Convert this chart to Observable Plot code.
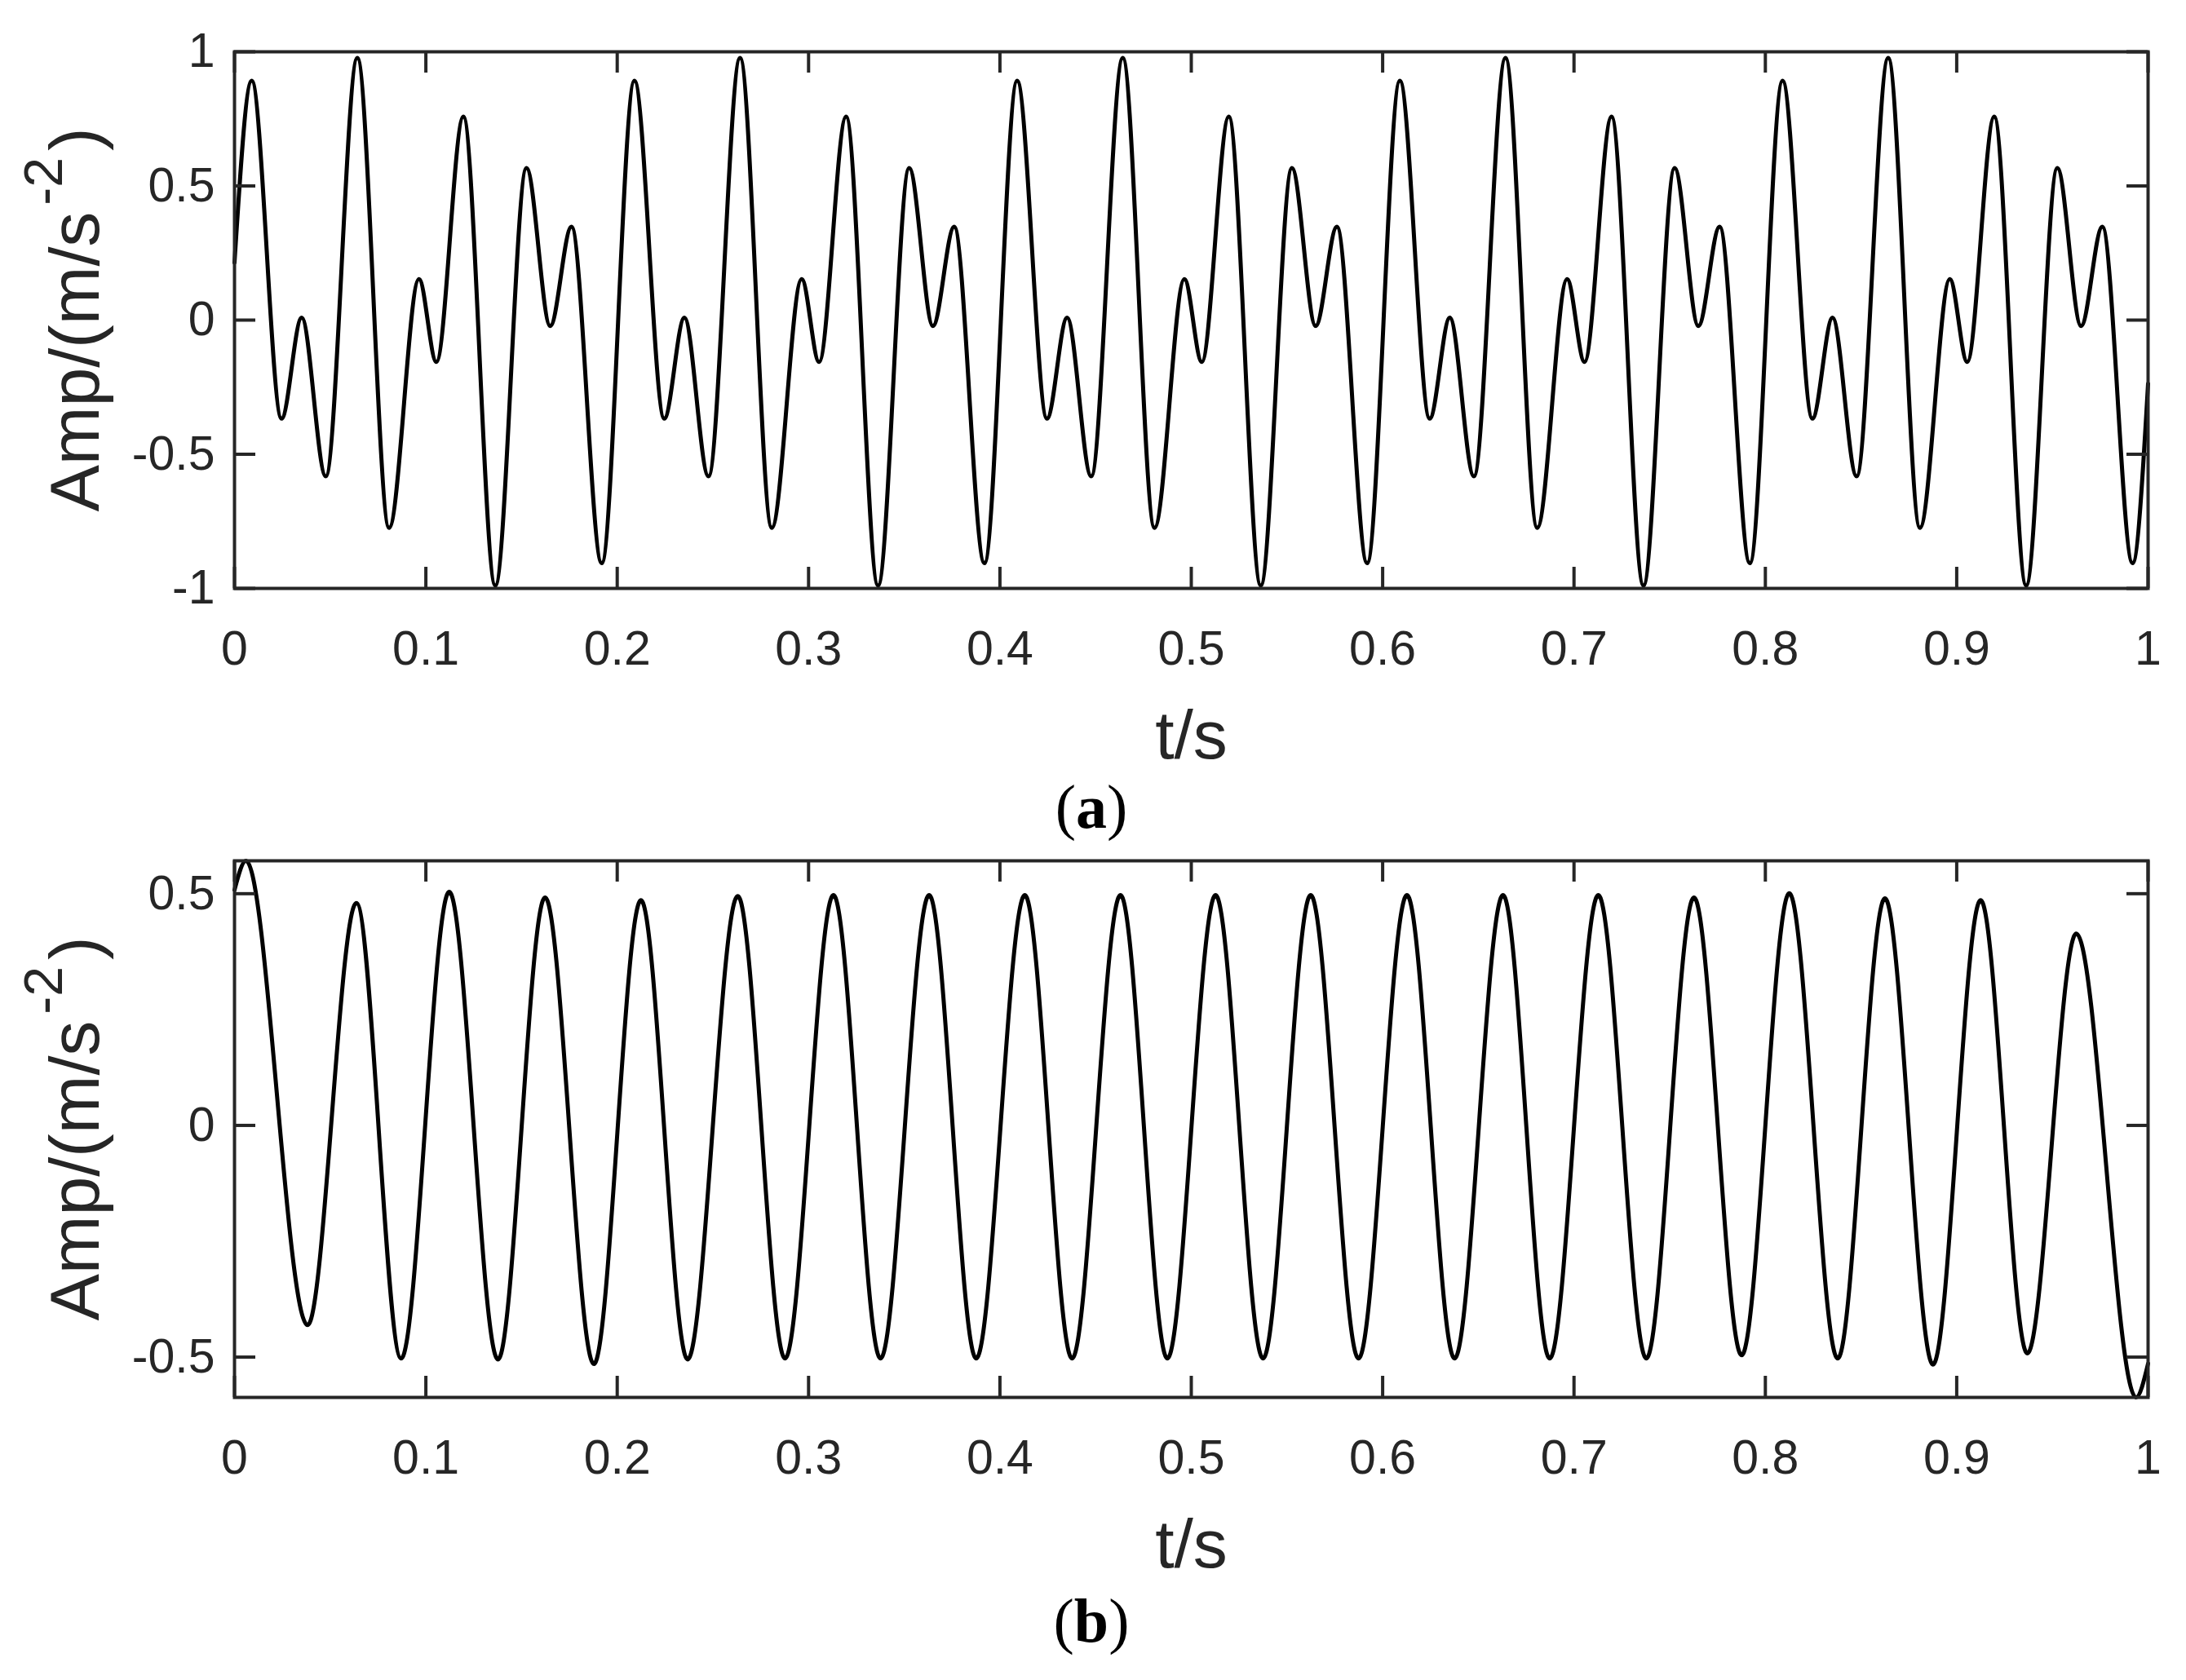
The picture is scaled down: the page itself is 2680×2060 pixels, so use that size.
<!DOCTYPE html>
<html><head><meta charset="utf-8">
<script src="https://cdn.jsdelivr.net/npm/d3@7"></script>
<script src="https://cdn.jsdelivr.net/npm/@observablehq/plot@0.6"></script>
<style>
html,body{margin:0;padding:0;background:#fff;}
#page{position:relative;width:2680px;height:2060px;overflow:hidden;background:#fff;}
.panel{position:absolute;left:0;}
.cap{position:absolute;left:0;width:2676px;text-align:center;font-family:"Liberation Serif","Times New Roman",serif;font-size:76px;line-height:76px;color:#000;}
.cap b{font-weight:bold;}
</style></head>
<body><div id="page"></div>
<script>
// ---- Panel (a): extrema of the raw signal ----
const aTime = [
  0, 0.009, 0.0246, 0.0351, 0.0477, 0.0642, 0.0808, 0.0964, 0.1055, 0.1196, 0.1363, 0.1526, 0.165, 0.1761, 0.1919,
  0.209, 0.2246, 0.2351, 0.2477, 0.2642, 0.2808, 0.2964, 0.3055, 0.3196, 0.3363, 0.3526, 0.365, 0.3761, 0.3919,
  0.409, 0.4246, 0.4351, 0.4477, 0.4642, 0.4808, 0.4964, 0.5055, 0.5196, 0.5363, 0.5526, 0.565, 0.5761, 0.5919,
  0.609, 0.6246, 0.6351, 0.6477, 0.6642, 0.6808, 0.6964, 0.7055, 0.7196, 0.7363, 0.7526, 0.765, 0.7761, 0.7919,
  0.809, 0.8246, 0.8351, 0.8477, 0.8642, 0.8808, 0.8964, 0.9055, 0.9196, 0.9363, 0.9526, 0.965, 0.9761, 0.9919,
  1.0
];
const aAmp = [
  0.214, 0.892, -0.367, 0.009, -0.582, 0.977, -0.774, 0.153, -0.156, 0.758, -0.989, 0.567, -0.022, 0.348, -0.906,
  0.892, -0.367, 0.009, -0.582, 0.977, -0.774, 0.153, -0.156, 0.758, -0.989, 0.567, -0.022, 0.348, -0.906,
  0.892, -0.367, 0.009, -0.582, 0.977, -0.774, 0.153, -0.156, 0.758, -0.989, 0.567, -0.022, 0.348, -0.906,
  0.892, -0.367, 0.009, -0.582, 0.977, -0.774, 0.153, -0.156, 0.758, -0.989, 0.567, -0.022, 0.348, -0.906,
  0.892, -0.367, 0.009, -0.582, 0.977, -0.774, 0.153, -0.156, 0.758, -0.989, 0.567, -0.022, 0.348, -0.906,
  -0.237
];

// ---- Panel (b): extrema of the extracted component ----
const bTime = [
  0, 0.006, 0.0382, 0.0637, 0.0871, 0.1122, 0.1377, 0.1623, 0.1878, 0.2124, 0.2368,
  0.263, 0.2877, 0.313, 0.3376, 0.363, 0.3876, 0.413, 0.4377, 0.463, 0.4875,
  0.5127, 0.5375, 0.5624, 0.5874, 0.6127, 0.6376, 0.6629, 0.6873, 0.7127, 0.7378,
  0.7627, 0.7876, 0.8125, 0.8378, 0.8625, 0.8876, 0.9125, 0.9369, 0.9625, 0.9937, 1.0
];
const bAmp = [
  0.508, 0.571, -0.431, 0.48, -0.503, 0.504, -0.505, 0.492, -0.515, 0.486, -0.505,
  0.495, -0.503, 0.497, -0.503, 0.497, -0.503, 0.497, -0.503, 0.497, -0.503,
  0.497, -0.503, 0.497, -0.503, 0.497, -0.503, 0.497, -0.503, 0.497, -0.503,
  0.492, -0.496, 0.501, -0.503, 0.49, -0.516, 0.486, -0.492, 0.414, -0.587, -0.514
];

// ---- Axes ----
const xTicks = [0, 0.1, 0.2, 0.3, 0.4, 0.5, 0.6, 0.7, 0.8, 0.9, 1];
const aYTicks = [-1, -0.5, 0, 0.5, 1];
const aYDomain = [-1, 1];
const bYTicks = [-0.5, 0, 0.5];
const bYDomain = [-0.587, 0.571];
const xLabel = "t/s";
const yLabelMain = "Amp/(m/s";
const yLabelSup = "-2";
const yLabelEnd = ")";
const captions = ["a", "b"];

const W = 2680, ML = 287, MR = 47, MT = 63, FH = 658, H = 990;
const MB = H - MT - FH;
const FW = W - ML - MR;
const TICK = 26;
const AX = "#262626";
const FONT = "'Liberation Sans', Arial, Helvetica, sans-serif";

function panel(time, amp, yDomain, yTicks) {
  const data = time.map((t, i) => ({t, v: amp[i]}));
  const svg = Plot.plot({
    width: W, height: H,
    marginLeft: ML, marginRight: MR, marginTop: MT, marginBottom: MB,
    style: {fontFamily: FONT, fontSize: "59px", color: AX, background: "white", overflow: "visible"},
    x: {domain: [0, 1], axis: null},
    y: {domain: yDomain, axis: null},
    marks: [
      Plot.line(data, {x: "t", y: "v", curve: "monotone-x", stroke: "black", strokeWidth: 5}),
      // inward ticks on all four sides
      Plot.tickX(xTicks, {x: d => d, insetTop: FH - TICK, stroke: AX, strokeWidth: 4}),
      Plot.tickX(xTicks, {x: d => d, insetBottom: FH - TICK, stroke: AX, strokeWidth: 4}),
      Plot.tickY(yTicks, {y: d => d, insetRight: FW - TICK, stroke: AX, strokeWidth: 4}),
      Plot.tickY(yTicks, {y: d => d, insetLeft: FW - TICK, stroke: AX, strokeWidth: 4}),
      Plot.axisX({ticks: xTicks, tickSize: 0, tickPadding: 52, tickFormat: d => String(d), label: null, fontSize: 59, fill: AX}),
      Plot.axisY({ticks: yTicks, tickSize: 0, tickPadding: 24, tickFormat: d => String(d), label: null, fontSize: 59, fill: AX}),
      Plot.text([xLabel], {text: d => d, frameAnchor: "bottom", lineAnchor: "bottom", dy: 208, fontSize: 84, fill: AX}),
      Plot.frame({stroke: AX, strokeWidth: 4})
    ]
  });
  // y label with superscript
  const t = d3.select(svg).append("text")
    .attr("transform", `translate(121,${MT + FH / 2}) rotate(-90)`)
    .attr("text-anchor", "middle")
    .attr("fill", AX)
    .style("font-family", FONT)
    .style("font-size", "86px");
  t.append("tspan").text(yLabelMain);
  t.append("tspan").attr("dx", 8).attr("dy", -45).style("font-size", "66px").text(yLabelSup);
  t.append("tspan").attr("dx", 8).attr("dy", 45).text(yLabelEnd);
  return svg;
}

const page = document.getElementById("page");
const svgA = panel(aTime, aAmp, aYDomain, aYTicks);
svgA.classList.add("panel");
svgA.style.top = "0px";
page.appendChild(svgA);

const svgB = panel(bTime, bAmp, bYDomain, bYTicks);
svgB.classList.add("panel");
svgB.style.top = "992px";
page.appendChild(svgB);

const capTops = [951, 1949];
captions.forEach((c, i) => {
  const div = document.createElement("div");
  div.className = "cap";
  div.style.top = capTops[i] + "px";
  div.innerHTML = "(<b>" + c + "</b>)";
  page.appendChild(div);
});
</script></body></html>
